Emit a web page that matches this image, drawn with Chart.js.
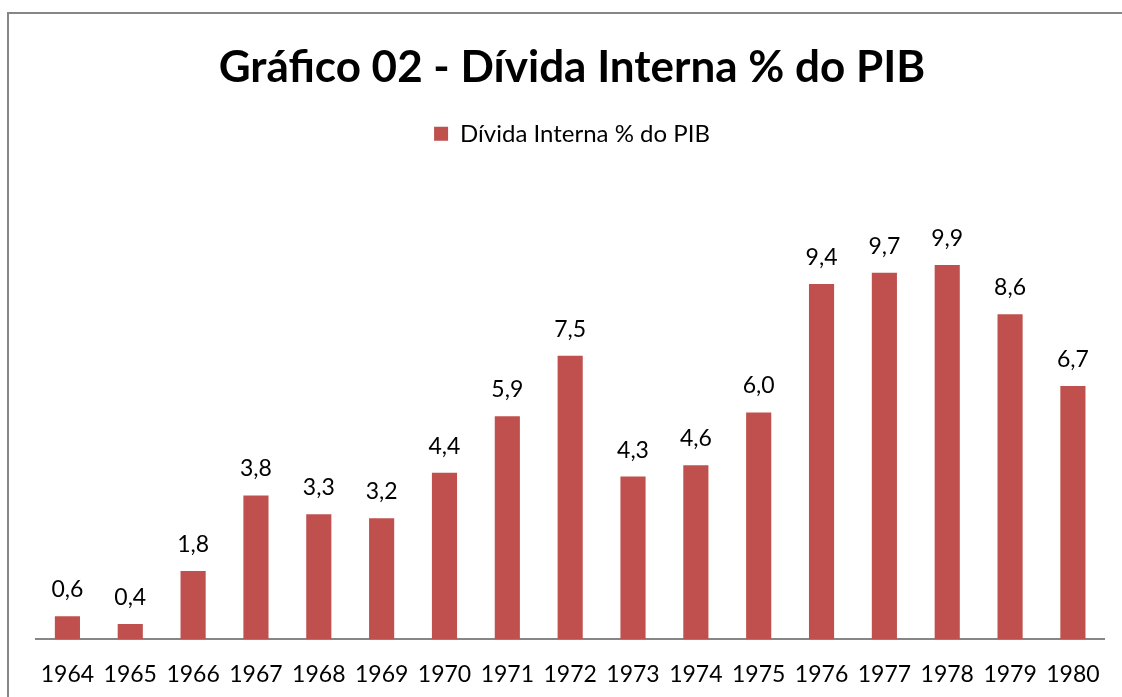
<!DOCTYPE html>
<html>
<head>
<meta charset="utf-8">
<script src="https://cdn.jsdelivr.net/npm/chart.js@4"></script>
<style>
  html, body { margin: 0; padding: 0; background: #fff; }
  #wrap { width: 1122px; height: 697px; position: relative; }
</style>
</head>
<body>
<div id="wrap"><canvas id="chart" width="1122" height="697"></canvas></div>
<script>
// Dívida interna em % do PIB, 1964-1980
const years = ['1964', '1965', '1966', '1967', '1968', '1969', '1970', '1971', '1972',
  '1973', '1974', '1975', '1976', '1977', '1978', '1979', '1980'];
const dividaPIB = [0.6, 0.4, 1.8, 3.8, 3.3, 3.2, 4.4, 5.9, 7.5, 4.3, 4.6, 6.0, 9.4, 9.7, 9.9, 8.6, 6.7];
const seriesName = 'Dívida Interna % do PIB';
const chartTitle = 'Gráfico 02 - Dívida Interna % do PIB';

const FONT = 'Lato, "Open Sans", sans-serif';

// frame around the chart (top + left edges, like the Excel export)
const frame = {
  id: 'frame',
  beforeDraw(chart) {
    const c = chart.ctx;
    c.save();
    c.fillStyle = '#fff';
    c.fillRect(0, 0, chart.width, chart.height);
    c.strokeStyle = '#868686';
    c.lineWidth = 2;
    c.beginPath();
    c.moveTo(8, chart.height + 5);
    c.lineTo(8, 13);
    c.lineTo(chart.width + 5, 13);
    c.stroke();
    c.restore();
  }
};

// extra empty space under the legend, before the plot area
const legendGap = {
  id: 'legendGap',
  beforeInit(chart) {
    const lg = chart.legend;
    if (!lg) return;
    const fit = lg.fit;
    lg.fit = function () {
      fit.call(this);
      this.height += 30;
    };
  }
};

// value labels above the bars, with decimal comma
const barLabels = {
  id: 'barLabels',
  afterDatasetsDraw(chart) {
    const c = chart.ctx;
    const meta = chart.getDatasetMeta(0);
    c.save();
    c.font = '23px ' + FONT;
    c.fillStyle = '#000';
    c.textAlign = 'center';
    c.textBaseline = 'alphabetic';
    meta.data.forEach((bar, i) => {
      const txt = dividaPIB[i].toFixed(1).replace('.', ',');
      c.fillText(txt, bar.x, bar.y - 19);
    });
    c.restore();
  }
};

const ctx = document.getElementById('chart').getContext('2d');
const chart = new Chart(ctx, {
  type: 'bar',
  data: {
    labels: years,
    datasets: [{
      label: seriesName,
      data: dividaPIB,
      backgroundColor: '#C0504D',
      borderWidth: 0,
      barPercentage: 0.4,
      categoryPercentage: 1.0,
    }],
  },
  options: {
    responsive: false,
    animation: false,
    layout: { padding: { top: 20, left: 36, right: 14, bottom: 0 } },
    plugins: {
      title: {
        display: true,
        text: chartTitle,
        color: '#000',
        font: { family: FONT, size: 44, weight: 'bold' },
        padding: { top: 21, bottom: 16 },
      },
      legend: {
        display: true,
        position: 'top',
        labels: {
          color: '#000',
          font: { family: FONT, size: 24 },
          boxWidth: 14,
          boxHeight: 14,
          padding: 12,
        },
      },
      tooltip: { enabled: false },
    },
    scales: {
      x: {
        grid: { display: false, drawTicks: false },
        border: { display: true, color: '#868686', width: 2 },
        ticks: {
          color: '#000',
          font: { family: FONT, size: 23 },
          padding: 22,
          maxRotation: 0,
          autoSkip: false,
        },
        afterFit(scale) {
          scale.height = 58;
        },
      },
      y: {
        display: false,
        min: 0,
        max: 12,
      },
    },
  },
  plugins: [frame, legendGap, barLabels],
});
</script>
</body>
</html>
